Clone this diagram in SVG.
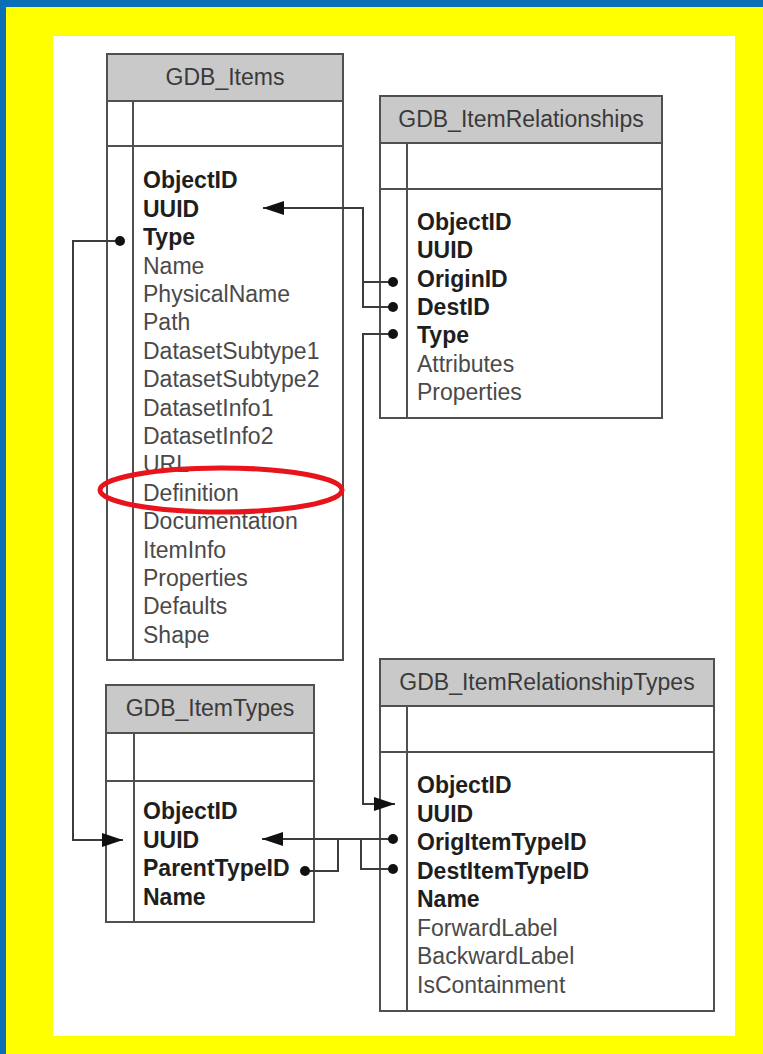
<svg xmlns="http://www.w3.org/2000/svg" width="763" height="1054" viewBox="0 0 763 1054">
<style>
.frame{fill:#fff;stroke:#505050;stroke-width:2}
.hdr{fill:#c9c9c9;stroke:#505050;stroke-width:2}
.ln{stroke:#505050;stroke-width:2;fill:none}
.title{font-family:"Liberation Sans",Arial,sans-serif;font-size:23px;fill:#3a3a3a;text-anchor:middle}
.b{font-family:"Liberation Sans",Arial,sans-serif;font-size:23px;font-weight:bold;fill:#1e1e1e}
.r{font-family:"Liberation Sans",Arial,sans-serif;font-size:23px;fill:#4a4a4a}
.con{stroke:#3c3c3c;stroke-width:2;fill:none}
</style>
<defs>
<marker id="arrow" markerUnits="userSpaceOnUse" markerWidth="22" markerHeight="16" refX="21" refY="7" orient="auto">
<path d="M0,0 L21,7 L0,14 Z" fill="#111"/>
</marker>
<marker id="dot" markerUnits="userSpaceOnUse" markerWidth="12" markerHeight="12" refX="6" refY="6" orient="auto">
<circle cx="6" cy="6" r="5" fill="#111"/>
</marker>
</defs>
<rect x="0" y="0" width="763" height="1054" fill="#ffff00"/>
<rect x="0" y="0" width="763" height="7" fill="#0a6fb5"/>
<rect x="0" y="0" width="6" height="1054" fill="#0a6fb5"/>
<rect x="53" y="36" width="682" height="1000" fill="#ffffff"/>

<g id="GDB_Items">
<rect class="frame" x="107" y="54" width="236" height="606"/>
<rect class="hdr" x="107" y="54" width="236" height="47"/>
<line class="ln" x1="107" y1="146" x2="343" y2="146"/>
<line class="ln" x1="133" y1="101" x2="133" y2="660"/>
<text class="title" x="225" y="85">GDB_Items</text>
<text class="b" x="143" y="188.3">ObjectID</text>
<text class="b" x="143" y="216.7">UUID</text>
<text class="b" x="143" y="245.1">Type</text>
<text class="r" x="143" y="273.5">Name</text>
<text class="r" x="143" y="301.9">PhysicalName</text>
<text class="r" x="143" y="330.3">Path</text>
<text class="r" x="143" y="358.7">DatasetSubtype1</text>
<text class="r" x="143" y="387.1">DatasetSubtype2</text>
<text class="r" x="143" y="415.5">DatasetInfo1</text>
<text class="r" x="143" y="443.9">DatasetInfo2</text>
<text class="r" x="143" y="472.3">URL</text>
<text class="r" x="143" y="500.7">Definition</text>
<text class="r" x="143" y="529.1">Documentation</text>
<text class="r" x="143" y="557.5">ItemInfo</text>
<text class="r" x="143" y="585.9">Properties</text>
<text class="r" x="143" y="614.3">Defaults</text>
<text class="r" x="143" y="642.7">Shape</text>
</g>

<g id="GDB_ItemRelationships">
<rect class="frame" x="380" y="96" width="282" height="322"/>
<rect class="hdr" x="380" y="96" width="282" height="47"/>
<line class="ln" x1="380" y1="189" x2="662" y2="189"/>
<line class="ln" x1="407" y1="143" x2="407" y2="418"/>
<text class="title" x="521" y="127">GDB_ItemRelationships</text>
<text class="b" x="417" y="230">ObjectID</text>
<text class="b" x="417" y="258.3">UUID</text>
<text class="b" x="417" y="286.6">OriginID</text>
<text class="b" x="417" y="314.9">DestID</text>
<text class="b" x="417" y="343.2">Type</text>
<text class="r" x="417" y="371.5">Attributes</text>
<text class="r" x="417" y="399.8">Properties</text>
</g>

<g id="GDB_ItemTypes">
<rect class="frame" x="106" y="685" width="208" height="237"/>
<rect class="hdr" x="106" y="685" width="208" height="48"/>
<line class="ln" x1="106" y1="781" x2="314" y2="781"/>
<line class="ln" x1="134" y1="733" x2="134" y2="922"/>
<text class="title" x="210" y="716">GDB_ItemTypes</text>
<text class="b" x="143" y="819">ObjectID</text>
<text class="b" x="143" y="847.5">UUID</text>
<text class="b" x="143" y="876">ParentTypeID</text>
<text class="b" x="143" y="904.5">Name</text>
</g>

<g id="GDB_ItemRelationshipTypes">
<rect class="frame" x="380" y="659" width="334" height="352"/>
<rect class="hdr" x="380" y="659" width="334" height="47"/>
<line class="ln" x1="380" y1="752" x2="714" y2="752"/>
<line class="ln" x1="407" y1="706" x2="407" y2="1011"/>
<text class="title" x="547" y="690">GDB_ItemRelationshipTypes</text>
<text class="b" x="417" y="793">ObjectID</text>
<text class="b" x="417" y="821.5">UUID</text>
<text class="b" x="417" y="850">OrigItemTypeID</text>
<text class="b" x="417" y="878.5">DestItemTypeID</text>
<text class="b" x="417" y="907">Name</text>
<text class="r" x="417" y="935.5">ForwardLabel</text>
<text class="r" x="417" y="964">BackwardLabel</text>
<text class="r" x="417" y="992.5">IsContainment</text>
</g>

<g id="connectors">
<path class="con" d="M393,307 H363 V208 H263" marker-start="url(#dot)" marker-end="url(#arrow)"/>
<path class="con" d="M393,282 H363" marker-start="url(#dot)"/>
<path class="con" d="M120,241 H73 V840 H123" marker-start="url(#dot)" marker-end="url(#arrow)"/>
<path class="con" d="M393,334 H363 V804 H395" marker-start="url(#dot)" marker-end="url(#arrow)"/>
<path class="con" d="M393,839 H262" marker-start="url(#dot)" marker-end="url(#arrow)"/>
<path class="con" d="M305,871 H338 V839" marker-start="url(#dot)"/>
<path class="con" d="M393,869 H361 V839" marker-start="url(#dot)"/>
</g>

<ellipse cx="221" cy="490" rx="121" ry="22" fill="none" stroke="#e8141c" stroke-width="5"/>
</svg>
